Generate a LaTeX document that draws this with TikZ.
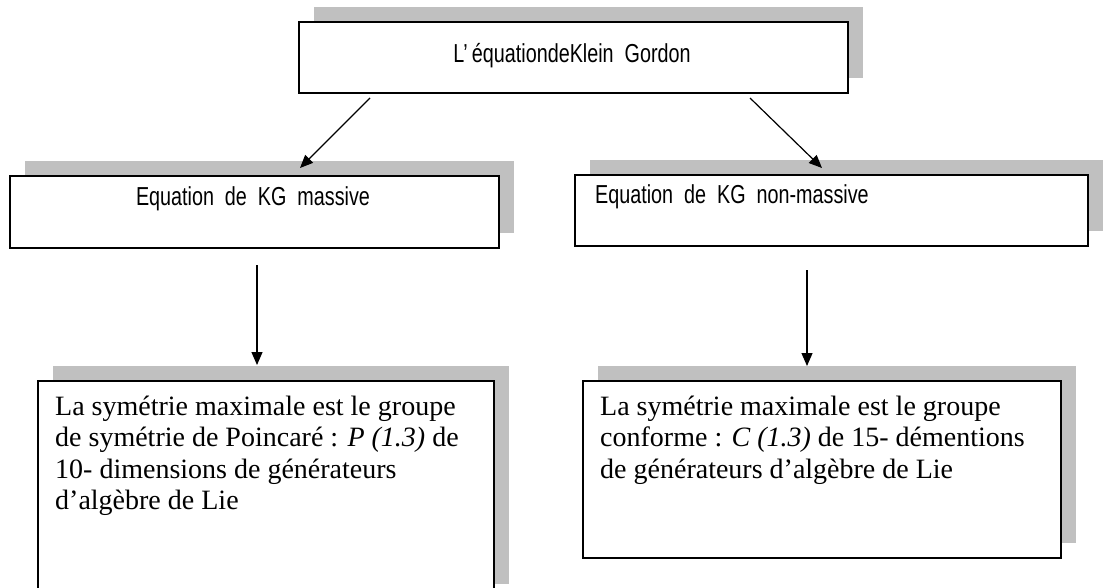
\documentclass[tikz,border=0pt]{standalone}
\usepackage{fontspec}
\setmainfont{Liberation Serif}
\newfontfamily\narrowsans[FakeStretch=0.76]{Liberation Sans}
\usetikzlibrary{arrows.meta,shadows}
\definecolor{shadowgray}{HTML}{C0C0C0}
\begin{document}
\begin{tikzpicture}[x=1pt,y=-1pt,
  mainbox/.style={draw=black, line width=1.8pt, fill=white, anchor=north west, inner sep=0pt,
    general shadow={fill=shadowgray, draw=none, shadow xshift=15pt, shadow yshift=15pt}},
  conn/.style={line width=1.2pt, -{Triangle[length=13pt,width=11pt]}},
  sanslabel/.style={font=\narrowsans\fontsize{26}{30}\selectfont, inner sep=0pt},
  seriflabel/.style={font=\fontsize{28}{31.5}\selectfont, inner sep=0pt, anchor=base west}]
\useasboundingbox (0,0) rectangle (1115,588);

% boxes
\node[mainbox, minimum width=549pt, minimum height=71pt] (top) at (298,21) {};
\node[mainbox, minimum width=489pt, minimum height=72pt] (ml) at (9,175) {};
\node[mainbox, minimum width=513pt, minimum height=71pt] (mr) at (574,174) {};
\node[mainbox, minimum width=456pt, minimum height=218pt] (bl) at (37,380) {};
\node[mainbox, minimum width=478pt, minimum height=177pt] (br) at (582,380) {};

% texts
\node[sanslabel, anchor=base] (ttop) at (572,63) {L’\,équationdeKlein\ \ Gordon};
\node[sanslabel, anchor=base] (tml) at (253,205) {Equation\ \ de\ \ KG\ \ massive};
\node[sanslabel, anchor=base west] (tmr) at (595,204) {Equation\ \ de\ \ KG\ \ non-massive};

\node[seriflabel] (tbl) at (55,415) {\begin{tabular}[t]{@{}l@{}}
La symétrie maximale est le groupe\\
de symétrie de Poincaré : \textit{P (1.3)} de\\
10- dimensions de générateurs\\
d’algèbre de Lie
\end{tabular}};
\node[seriflabel] (tbr) at (600,415) {\begin{tabular}[t]{@{}l@{}}
La symétrie maximale est le groupe\\
conforme : \textit{C (1.3)} de 15- démentions\\
de générateurs d’algèbre de Lie
\end{tabular}};

% connectors
\coordinate (a1s) at (370,98);
\coordinate (a1e) at (300,168);
\coordinate (a2s) at (750,98);
\coordinate (a2e) at (822,168);
\coordinate (a3s) at (257,265);
\coordinate (a3e) at (257,365);
\coordinate (a4s) at (807,270);
\coordinate (a4e) at (807,366);
\draw[conn] (a1s) -- (a1e);
\draw[conn] (a2s) -- (a2e);
\draw[conn] (a3s) -- (a3e);
\draw[conn] (a4s) -- (a4e);
\end{tikzpicture}
\end{document}
